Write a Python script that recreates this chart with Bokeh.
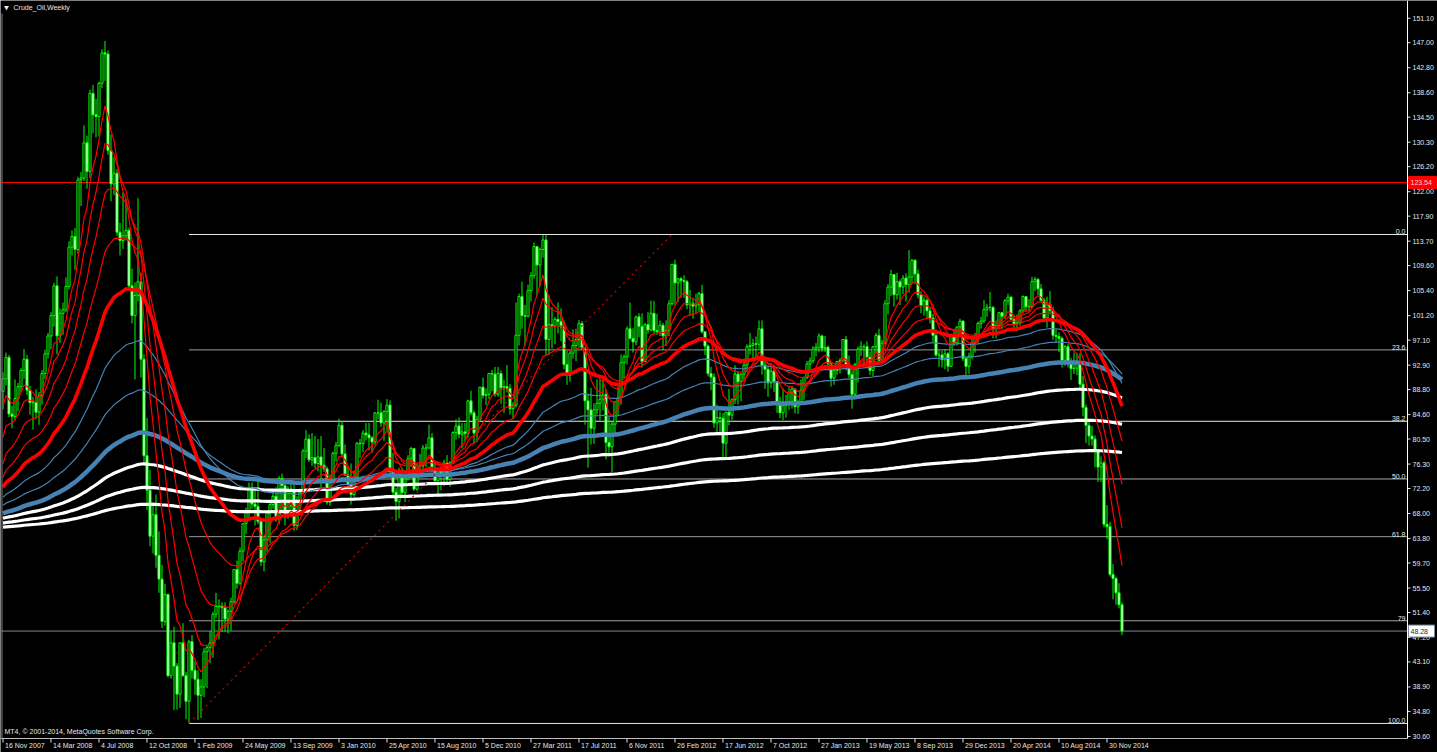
from bokeh.plotting import figure
from bokeh.models import Range1d, Label
from bokeh.embed import file_html
from bokeh.resources import INLINE
from bokeh.core.properties import value

# ---------------- weekly OHLC, Crude_Oil ----------------
opens = [
    88.5, 90.6, 94.2, 84.7, 84.3, 87.3, 89.3, 92.0, 93.9, 88.7,
    86.6, 86.7, 85.0, 87.8, 91.5, 94.8, 97.8, 101.2, 106.2, 97.8,
    101.6, 102.2, 106.1, 112.7, 114.5, 112.3, 124.0, 124.3, 130.2, 125.4,
    138.5, 134.9, 134.6, 140.2, 145.3, 145.1, 128.9, 123.3, 125.1, 115.2,
    113.8, 114.6, 115.5, 106.2, 101.2, 104.6, 106.9, 93.9, 77.7, 71.9,
    64.2, 67.8, 61.0, 57.0, 49.9, 54.4, 40.8, 46.3, 42.4, 37.7,
    46.3, 40.8, 36.5, 46.5, 41.7, 40.2, 37.5, 38.9, 44.8, 45.5,
    46.3, 51.1, 52.4, 52.5, 52.2, 50.3, 51.6, 53.2, 58.6, 56.3,
    61.7, 66.3, 68.4, 72.0, 69.6, 69.2, 66.7, 59.9, 63.6, 68.1,
    69.5, 70.9, 67.5, 73.9, 72.7, 68.0, 69.3, 72.0, 66.0, 70.0,
    71.8, 78.5, 80.5, 77.0, 77.4, 76.4, 77.5, 76.1, 75.5, 69.9,
    73.4, 78.1, 79.4, 82.8, 78.0, 74.5, 72.9, 71.2, 74.1, 79.8,
    79.7, 81.5, 81.2, 80.7, 80.0, 84.9, 84.9, 83.2, 85.1, 86.2,
    75.1, 71.6, 70.0, 74.0, 71.5, 73.8, 77.2, 78.9, 72.1, 76.1,
    76.0, 79.0, 79.0, 80.7, 75.4, 73.5, 75.2, 74.6, 76.5, 73.7,
    76.5, 81.6, 82.7, 81.3, 81.7, 81.4, 86.9, 84.9, 81.5, 83.8,
    89.2, 87.8, 88.0, 91.5, 91.4, 88.0, 91.5, 89.1, 89.3, 89.0,
    85.6, 86.2, 97.9, 104.4, 101.2, 101.1, 105.4, 107.9, 112.8, 109.7,
    112.3, 113.9, 97.2, 99.7, 99.5, 100.6, 100.2, 99.3, 93.0, 91.2,
    94.9, 96.2, 97.2, 99.9, 95.7, 86.9, 85.4, 82.3, 85.4, 86.5,
    87.2, 88.0, 79.9, 79.2, 83.0, 86.8, 87.4, 93.3, 94.3, 99.0,
    97.4, 96.8, 101.0, 99.4, 93.5, 99.7, 98.8, 101.6, 98.7, 98.5,
    99.6, 97.8, 98.7, 103.2, 109.8, 106.7, 107.4, 107.1, 106.9, 103.0,
    103.3, 102.8, 103.1, 104.9, 98.5, 96.1, 91.5, 90.9, 83.2, 84.1,
    84.0, 79.8, 85.0, 84.5, 87.1, 91.4, 90.1, 91.4, 92.9, 96.0,
    96.2, 96.5, 96.4, 99.0, 92.9, 92.2, 89.9, 91.9, 90.1, 86.3,
    84.9, 86.1, 86.7, 88.3, 88.9, 85.9, 86.7, 88.7, 90.8, 93.1,
    93.6, 95.6, 95.9, 97.8, 95.7, 95.9, 93.1, 90.7, 92.0, 93.5,
    93.7, 97.2, 92.7, 91.3, 88.0, 93.0, 95.6, 96.0, 96.0, 94.2,
    92.0, 96.0, 97.9, 93.7, 96.6, 103.2, 106.0, 108.1, 104.7, 106.9,
    106.0, 107.5, 106.4, 107.7, 110.5, 108.2, 104.7, 102.9, 103.8, 102.0,
    100.8, 97.9, 94.6, 94.6, 93.8, 94.8, 92.7, 97.7, 96.6, 99.3,
    100.3, 94.0, 92.7, 94.4, 96.6, 97.5, 99.9, 100.3, 102.2, 102.6,
    102.6, 98.9, 99.5, 101.7, 101.1, 103.7, 104.3, 100.6, 99.8, 100.0,
    102.0, 104.4, 102.7, 102.7, 106.9, 107.3, 105.7, 103.8, 100.8, 103.1,
    102.1, 97.9, 97.7, 97.4, 93.7, 96.0, 93.3, 92.3, 92.4, 93.5,
    89.7, 85.8, 82.8, 81.0, 80.5, 78.7, 75.8, 76.5, 66.2, 65.8,
    57.8, 57.1, 54.7, 52.7,
]
highs = [
    91.7, 95.0, 94.6, 86.0, 90.5, 89.9, 92.4, 95.6, 94.6, 89.4,
    87.6, 88.8, 88.4, 92.1, 95.5, 98.3, 101.8, 106.7, 107.8, 102.4,
    103.4, 107.6, 113.7, 115.5, 115.9, 124.5, 125.3, 133.1, 131.4, 139.1,
    139.9, 137.6, 140.4, 145.9, 147.3, 145.7, 131.6, 127.8, 125.8, 116.8,
    121.9, 120.8, 116.0, 109.1, 106.8, 120.9, 108.4, 94.7, 84.0, 75.3,
    69.9, 71.2, 65.0, 59.4, 56.2, 54.6, 48.2, 49.0, 42.9, 46.4,
    49.6, 41.4, 46.8, 47.6, 43.2, 41.7, 40.2, 45.5, 46.0, 48.3,
    51.5, 54.7, 53.6, 53.1, 53.1, 51.9, 53.9, 58.7, 60.1, 62.3,
    66.4, 69.0, 73.2, 73.2, 71.9, 73.4, 66.9, 64.1, 68.5, 69.8,
    72.0, 72.4, 74.3, 74.7, 73.4, 72.6, 73.0, 72.9, 70.9, 72.2,
    78.8, 82.0, 81.3, 81.5, 81.0, 80.5, 81.0, 79.0, 75.9, 74.5,
    78.4, 80.0, 83.9, 83.5, 79.6, 75.9, 76.4, 75.2, 80.0, 80.5,
    82.0, 83.2, 83.2, 81.0, 85.0, 87.1, 86.6, 85.4, 87.2, 87.0,
    78.2, 72.3, 75.7, 75.7, 75.3, 77.8, 79.2, 78.9, 76.4, 78.0,
    79.5, 79.7, 82.9, 81.5, 76.9, 75.4, 75.9, 77.0, 77.8, 76.8,
    81.8, 83.8, 84.1, 83.2, 83.2, 87.1, 88.6, 85.3, 84.4, 89.2,
    90.8, 89.0, 91.6, 92.1, 92.6, 92.6, 92.0, 90.4, 92.9, 89.7,
    86.7, 103.4, 104.9, 106.9, 103.0, 106.4, 108.5, 113.5, 112.9, 112.6,
    114.8, 114.8, 104.6, 102.6, 101.0, 103.4, 102.4, 100.4, 95.6, 95.4,
    98.9, 99.0, 100.5, 100.3, 95.9, 87.9, 89.1, 86.5, 90.5, 90.5,
    90.5, 88.9, 84.3, 83.4, 86.9, 89.3, 94.7, 94.7, 99.4, 103.4,
    99.1, 101.2, 101.6, 101.6, 100.0, 101.8, 103.7, 103.7, 101.5, 100.4,
    100.0, 100.4, 103.8, 109.9, 110.6, 107.4, 107.7, 108.0, 107.2, 105.5,
    104.2, 104.9, 105.2, 106.4, 98.6, 96.4, 92.6, 91.5, 86.3, 85.1,
    84.9, 85.0, 88.9, 87.3, 92.9, 91.9, 91.5, 94.0, 96.4, 98.3,
    97.3, 97.7, 100.4, 100.4, 93.8, 92.8, 93.2, 92.8, 90.2, 87.6,
    89.0, 87.9, 89.2, 89.3, 89.0, 87.1, 90.5, 91.0, 93.6, 94.2,
    96.1, 96.6, 98.2, 98.0, 97.8, 96.2, 93.5, 92.1, 93.6, 94.1,
    97.3, 97.8, 94.5, 92.0, 93.3, 96.0, 96.9, 96.4, 96.9, 95.2,
    96.1, 98.3, 99.0, 97.1, 103.8, 106.5, 108.9, 108.1, 108.4, 107.3,
    108.0, 108.3, 112.2, 110.7, 110.7, 108.9, 105.3, 104.4, 104.1, 102.6,
    101.5, 98.9, 95.4, 95.3, 95.6, 95.1, 97.9, 99.0, 99.4, 100.7,
    100.4, 94.3, 95.0, 97.8, 98.3, 100.2, 101.0, 103.8, 103.2, 105.2,
    102.8, 100.4, 101.8, 101.8, 104.0, 104.9, 104.5, 101.4, 101.4, 102.3,
    104.6, 104.5, 104.0, 107.7, 107.7, 107.5, 106.5, 104.2, 104.4, 105.3,
    102.7, 98.9, 98.4, 97.7, 96.3, 96.5, 94.1, 95.0, 94.9, 94.9,
    91.1, 86.3, 83.8, 82.7, 81.1, 78.8, 77.6, 76.9, 69.4, 66.6,
    59.5, 57.4, 56.3, 53.1,
]
lows = [
    85.5, 89.5, 84.2, 82.3, 83.6, 85.2, 88.4, 90.6, 87.9, 84.6,
    82.1, 83.9, 82.9, 86.3, 90.6, 94.0, 95.6, 99.4, 94.7, 96.6,
    98.0, 101.8, 105.6, 111.3, 108.9, 111.6, 119.6, 123.8, 122.5, 124.3,
    131.8, 131.1, 131.3, 139.4, 140.6, 128.2, 120.4, 121.4, 114.6, 111.3,
    112.4, 113.8, 105.5, 99.9, 90.5, 103.6, 90.8, 76.4, 68.6, 62.5,
    61.3, 58.9, 54.7, 48.8, 49.2, 40.5, 40.3, 35.0, 35.1, 35.4,
    40.6, 33.5, 32.78, 40.3, 37.6, 33.4, 33.7, 37.2, 38.7, 42.9,
    43.8, 50.5, 46.9, 48.1, 48.2, 47.9, 48.3, 52.9, 55.4, 56.0,
    60.0, 64.6, 67.0, 68.8, 66.0, 66.2, 59.2, 58.3, 61.6, 63.1,
    68.8, 66.6, 66.2, 68.1, 66.0, 67.1, 67.9, 65.1, 65.2, 68.2,
    71.5, 77.3, 76.7, 76.0, 75.6, 75.1, 72.4, 75.0, 69.5, 69.3,
    73.1, 76.8, 79.2, 77.5, 74.3, 72.4, 69.5, 70.8, 73.8, 77.4,
    78.3, 80.3, 78.6, 78.2, 79.5, 83.8, 82.5, 80.2, 81.9, 74.7,
    70.8, 66.8, 67.2, 71.2, 69.9, 73.5, 75.8, 71.8, 71.8, 74.2,
    75.4, 75.8, 78.8, 75.0, 73.3, 70.8, 71.9, 72.6, 73.0, 72.5,
    76.3, 80.4, 80.6, 78.9, 80.1, 80.7, 84.5, 79.7, 80.0, 83.5,
    87.3, 86.2, 87.2, 88.5, 87.6, 87.6, 86.4, 84.9, 88.3, 84.6,
    83.9, 85.8, 96.2, 99.0, 96.2, 100.9, 103.6, 107.4, 104.6, 106.1,
    110.9, 94.6, 94.6, 95.7, 96.4, 98.2, 96.9, 92.2, 89.6, 90.1,
    94.0, 93.6, 95.9, 95.6, 82.9, 75.7, 79.6, 79.7, 84.6, 83.6,
    85.3, 77.1, 77.6, 74.9, 81.5, 84.5, 86.3, 90.6, 93.0, 97.2,
    95.0, 96.2, 97.6, 92.5, 93.4, 98.2, 98.6, 98.2, 98.0, 97.8,
    95.4, 96.1, 97.8, 102.9, 102.9, 103.5, 104.2, 104.2, 102.3, 101.2,
    100.7, 101.6, 101.8, 98.2, 94.6, 91.0, 88.7, 82.4, 81.1, 81.1,
    77.3, 77.3, 82.8, 83.7, 86.4, 86.3, 86.8, 90.4, 91.7, 94.7,
    93.6, 94.2, 95.6, 91.3, 88.9, 87.6, 89.0, 88.4, 84.9, 84.0,
    83.7, 84.1, 85.4, 85.6, 84.8, 84.7, 86.4, 87.1, 90.6, 91.9,
    93.2, 94.4, 95.1, 95.1, 95.1, 92.3, 89.3, 89.6, 91.2, 91.5,
    93.4, 92.0, 90.7, 85.6, 87.6, 90.0, 94.4, 93.1, 92.7, 91.2,
    91.0, 94.8, 93.0, 93.1, 96.4, 101.4, 104.5, 102.7, 103.9, 103.0,
    104.8, 103.6, 105.1, 106.5, 106.5, 104.1, 101.6, 101.2, 100.7, 99.9,
    96.8, 94.3, 92.6, 92.5, 92.2, 91.8, 92.6, 96.1, 96.2, 98.1,
    93.6, 91.2, 91.4, 93.9, 95.0, 96.6, 99.0, 100.0, 101.0, 101.9,
    97.4, 97.4, 98.9, 98.9, 100.7, 103.0, 100.5, 98.9, 98.6, 99.5,
    101.6, 101.8, 101.8, 102.5, 105.3, 104.6, 103.5, 100.1, 99.2, 101.4,
    97.1, 96.6, 95.1, 92.5, 92.8, 92.5, 90.4, 91.4, 91.2, 88.8,
    84.3, 79.8, 79.4, 79.4, 75.8, 73.3, 73.3, 65.7, 63.7, 57.4,
    53.6, 52.7, 52.1, 47.6,
]
closes = [
    90.6, 94.2, 84.7, 84.3, 87.3, 89.3, 92.0, 93.9, 88.7, 86.6,
    86.7, 85.0, 87.8, 91.5, 94.8, 97.8, 101.2, 106.2, 97.8, 101.6,
    102.2, 106.1, 112.7, 114.5, 112.3, 124.0, 124.3, 130.2, 125.4, 138.5,
    134.9, 134.6, 140.2, 145.3, 145.1, 128.9, 123.3, 125.1, 115.2, 113.8,
    114.6, 115.5, 106.2, 101.2, 104.6, 106.9, 93.9, 77.7, 71.9, 64.2,
    67.8, 61.0, 57.0, 49.9, 54.4, 40.8, 46.3, 42.4, 37.7, 46.3,
    40.8, 36.5, 46.5, 41.7, 40.2, 37.5, 38.9, 44.8, 45.5, 46.3,
    51.1, 52.4, 52.5, 52.2, 50.3, 51.6, 53.2, 58.6, 56.3, 61.7,
    66.3, 68.4, 72.0, 69.6, 69.2, 66.7, 59.9, 63.6, 68.1, 69.5,
    70.9, 67.5, 73.9, 72.7, 68.0, 69.3, 72.0, 66.0, 70.0, 71.8,
    78.5, 80.5, 77.0, 77.4, 76.4, 77.5, 76.1, 75.5, 69.9, 73.4,
    78.1, 79.4, 82.8, 78.0, 74.5, 72.9, 71.2, 74.1, 79.8, 79.7,
    81.5, 81.2, 80.7, 80.0, 84.9, 84.9, 83.2, 85.1, 86.2, 75.1,
    71.6, 70.0, 74.0, 71.5, 73.8, 77.2, 78.9, 72.1, 76.1, 76.0,
    79.0, 79.0, 80.7, 75.4, 73.5, 75.2, 74.6, 76.5, 73.7, 76.5,
    81.6, 82.7, 81.3, 81.7, 81.4, 86.9, 84.9, 81.5, 83.8, 89.2,
    87.8, 88.0, 91.5, 91.4, 88.0, 91.5, 89.1, 89.3, 89.0, 85.6,
    86.2, 97.9, 104.4, 101.2, 101.1, 105.4, 107.9, 112.8, 109.7, 112.3,
    113.9, 97.2, 99.7, 99.5, 100.6, 100.2, 99.3, 93.0, 91.2, 94.9,
    96.2, 97.2, 99.9, 95.7, 86.9, 85.4, 82.3, 85.4, 86.5, 87.2,
    88.0, 79.9, 79.2, 83.0, 86.8, 87.4, 93.3, 94.3, 99.0, 97.4,
    96.8, 101.0, 99.4, 93.5, 99.7, 98.8, 101.6, 98.7, 98.5, 99.6,
    97.8, 98.7, 103.2, 109.8, 106.7, 107.4, 107.1, 106.9, 103.0, 103.3,
    102.8, 103.1, 104.9, 98.5, 96.1, 91.5, 90.9, 83.2, 84.1, 84.0,
    79.8, 85.0, 84.5, 87.1, 91.4, 90.1, 91.4, 92.9, 96.0, 96.2,
    96.5, 96.4, 99.0, 92.9, 92.2, 89.9, 91.9, 90.1, 86.3, 84.9,
    86.1, 86.7, 88.3, 88.9, 85.9, 86.7, 88.7, 90.8, 93.1, 93.6,
    95.6, 95.9, 97.8, 95.7, 95.9, 93.1, 90.7, 92.0, 93.5, 93.7,
    97.2, 92.7, 91.3, 88.0, 93.0, 95.6, 96.0, 96.0, 94.2, 92.0,
    96.0, 97.9, 93.7, 96.6, 103.2, 106.0, 108.1, 104.7, 106.9, 106.0,
    107.5, 106.4, 107.7, 110.5, 108.2, 104.7, 102.9, 103.8, 102.0, 100.8,
    97.9, 94.6, 94.6, 93.8, 94.8, 92.7, 97.7, 96.6, 99.3, 100.3,
    94.0, 92.7, 94.4, 96.6, 97.5, 99.9, 100.3, 102.2, 102.6, 102.6,
    98.9, 99.5, 101.7, 101.1, 103.7, 104.3, 100.6, 99.8, 100.0, 102.0,
    104.4, 102.7, 102.7, 106.9, 107.3, 105.7, 103.8, 100.8, 103.1, 102.1,
    97.9, 97.7, 97.4, 93.7, 96.0, 93.3, 92.3, 92.4, 93.5, 89.7,
    85.8, 82.8, 81.0, 80.5, 78.7, 75.8, 76.5, 66.2, 65.8, 57.8,
    57.1, 54.7, 52.7, 48.28,
]

# ---------------- time axis ----------------
date_ticks = [0, 16, 32, 48, 64, 80, 96, 112, 128, 144, 160, 176,
              192, 208, 224, 240, 256, 272, 288, 304, 320, 336, 352, 368]
date_labels = ["16 Nov 2007", "14 Mar 2008", "4 Jul 2008", "12 Oct 2008",
               "1 Feb 2009", "24 May 2009", "13 Sep 2009", "3 Jan 2010",
               "25 Apr 2010", "15 Aug 2010", "5 Dec 2010", "27 Mar 2011",
               "17 Jul 2011", "6 Nov 2011", "26 Feb 2012", "17 Jun 2012",
               "7 Oct 2012", "27 Jan 2013", "19 May 2013", "8 Sep 2013",
               "29 Dec 2013", "20 Apr 2014", "10 Aug 2014", "30 Nov 2014"]

# ---------------- price axis ----------------
price_ticks = [151.10, 147.00, 142.80, 138.60, 134.50, 130.30, 126.20,
               122.00, 117.90, 113.70, 109.60, 105.40, 101.20, 97.10,
               92.90, 88.80, 84.60, 80.50, 76.30, 72.20, 68.00, 63.80,
               59.70, 55.50, 51.40, 47.20, 43.10, 38.90, 34.80, 30.60]

# ---------------- objects on the chart ----------------
alert_price = 123.54
bid_price = closes[-1]
fib_high = 114.82
fib_low = 32.78
fib_levels = [0.0, 23.6, 38.2, 50.0, 61.8, 79.0, 100.0, 127.2, 138.2]
fib_texts = ["0.0", "23.6", "38.2", "50.0", "61.8", "79", "100.0", "127", "138"]
fib_colors = ["#e8e8e8", "#9a9a9a", "#e8e8e8", "#a8a8a8", "#9a9a9a",
              "#a0a0a0", "#e8e8e8", "#e8e8e8", "#9a9a9a"]
fib_anchor_bar = 62       # bar of the swing low the retracement is drawn from
fib_trend_end_bar = 223   # far end of the retracement's base line

# exponential moving averages (period, value at the first bar)
ma_periods = [987, 610, 377, 233, 144, 89, 55, 34, 21, 13, 8]
ma_seeds = [65.7, 66.4, 67.2, 68.0, 69.4, 70.7, 72.4, 74.1, 76.4, 80.8, 86.0]
ma_colors = ["white", "white", "white", "#4682b4", "#4682b4", "#4682b4",
             "red", "red", "red", "red", "red"]
ma_widths = [3.2, 3.2, 3.2, 4.5, 1.2, 1.2, 3.6, 1.2, 1.2, 1.2, 1.2]

# ---------------- geometry ----------------
W, H = 1437, 752
BAR_PX = 3.0                  # horizontal pixels per weekly bar
X0 = -2.5 / BAR_PX            # bar 0 sits 2.5 px from the left edge
PX_PER_USD = 5.96
Y_TOP = 154.08


def px2x(px):
    return X0 + px / BAR_PX


def py2y(py):
    return Y_TOP - py / PX_PER_USD


def ema(vals, period, seed):
    k = 2.0 / (period + 1)
    out = [seed]
    for v in vals[1:]:
        out.append(out[-1] + k * (v - out[-1]))
    return out


FONT = value("Liberation Sans")
FG = "#e6e6e6"
LIME = "#00ff00"

p = figure(width=W, height=H, output_backend="svg", toolbar_location=None,
           title=None,
           x_range=Range1d(X0, X0 + W / BAR_PX),
           y_range=Range1d(Y_TOP - H / PX_PER_USD, Y_TOP),
           min_border=0, x_axis_location=None, y_axis_location=None,
           background_fill_color="black", border_fill_color="black")
p.grid.visible = False
p.outline_line_color = None

x_right = px2x(1407)
y_bottom = py2y(738)
bars = list(range(len(closes)))

# fibonacci retracement levels
fib_prices = [fib_high - lv / 100.0 * (fib_high - fib_low) for lv in fib_levels]
p.segment(x0=[fib_anchor_bar] * len(fib_prices), x1=[x_right] * len(fib_prices),
          y0=fib_prices, y1=fib_prices, line_color=fib_colors, line_width=1)
p.text(x=[px2x(1405)] * len(fib_prices), y=fib_prices, text=fib_texts,
       text_font=FONT, text_font_size="7px", text_color=FG,
       text_align="right", text_baseline="bottom")

# alert line and bid line
p.segment(x0=[X0], x1=[x_right], y0=[alert_price], y1=[alert_price],
          line_color="red", line_width=1)
p.segment(x0=[X0], x1=[x_right], y0=[bid_price], y1=[bid_price],
          line_color="#778899", line_width=1)

# candles: lime wicks, black body when up, white body when down
p.segment(x0=bars, x1=bars, y0=lows, y1=highs, line_color=LIME, line_width=1)
tops = [max(o, c) for o, c in zip(opens, closes)]
bots = [min(o, c) for o, c in zip(opens, closes)]
fills = ["black" if c > o else "white" for o, c in zip(opens, closes)]
p.vbar(x=bars, width=0.7, top=tops, bottom=bots,
       fill_color=fills, line_color=LIME, line_width=1)

# moving averages
for per, seed, col, lw in zip(ma_periods, ma_seeds, ma_colors, ma_widths):
    p.line(bars, ema(closes, per, seed), line_color=col, line_width=lw)

# base line of the retracement
p.segment(x0=[fib_anchor_bar], x1=[fib_trend_end_bar],
          y0=[fib_low], y1=[fib_high], line_color="#d00000",
          line_width=1.2, line_dash="2 4")

# frame
p.segment(x0=[x_right], x1=[x_right], y0=[y_bottom], y1=[Y_TOP],
          line_color="white", line_width=1)
p.segment(x0=[X0], x1=[x_right], y0=[y_bottom], y1=[y_bottom],
          line_color="#bdbdbd", line_width=1)
p.segment(x0=[px2x(1.5)], x1=[px2x(1.5)], y0=[y_bottom], y1=[py2y(13)],
          line_color="#808080", line_width=1)

# price scale
p.segment(x0=[x_right] * len(price_ticks), x1=[px2x(1410)] * len(price_ticks),
          y0=price_ticks, y1=price_ticks, line_color=FG, line_width=1)
p.text(x=[px2x(1412)] * len(price_ticks), y=price_ticks,
       text=["%.2f" % v for v in price_ticks],
       text_font=FONT, text_font_size="7px", text_color=FG,
       text_align="left", text_baseline="middle")

# price boxes on the scale
p.quad(left=[px2x(1408)], right=[px2x(1436)],
       top=[alert_price + 6 / PX_PER_USD], bottom=[alert_price - 6 / PX_PER_USD],
       fill_color="red", line_color="red")
p.text(x=[px2x(1410)], y=[alert_price], text=["%.2f" % alert_price],
       text_font=FONT, text_font_size="7px", text_color="#ffd0d0",
       text_align="left", text_baseline="middle")
p.quad(left=[px2x(1408)], right=[px2x(1434)],
       top=[bid_price + 6 / PX_PER_USD], bottom=[bid_price - 6 / PX_PER_USD],
       fill_color="white", line_color="#778899")
p.text(x=[px2x(1410)], y=[bid_price], text=["%.2f" % bid_price],
       text_font=FONT, text_font_size="7px", text_color="#1a2a4a",
       text_align="left", text_baseline="middle")

# time scale
p.segment(x0=date_ticks, x1=date_ticks, y0=[y_bottom] * len(date_ticks),
          y1=[py2y(742)] * len(date_ticks), line_color=FG, line_width=1)
p.text(x=date_ticks, y=[py2y(744.5)] * len(date_ticks), text=date_labels,
       text_font=FONT, text_font_size="7px", text_color=FG,
       text_align="left", text_baseline="middle", x_offset=2)

# caption and copyright
p.scatter(x=[px2x(6)], y=[py2y(7)], marker="inverted_triangle", size=5,
          fill_color=FG, line_color=None)
p.add_layout(Label(x=13, y=H - 7, x_units="screen", y_units="screen",
                   text="Crude_Oil,Weekly", text_font="Liberation Sans",
                   text_font_size="7px", text_color=FG,
                   text_baseline="middle"))
p.add_layout(Label(x=4, y=H - 731, x_units="screen", y_units="screen",
                   text="MT4, \u00a9 2001-2014, MetaQuotes Software Corp.",
                   text_font="Liberation Sans", text_font_size="7px",
                   text_color=FG, text_baseline="middle"))

open("out.html", "w").write(file_html(p, INLINE))
